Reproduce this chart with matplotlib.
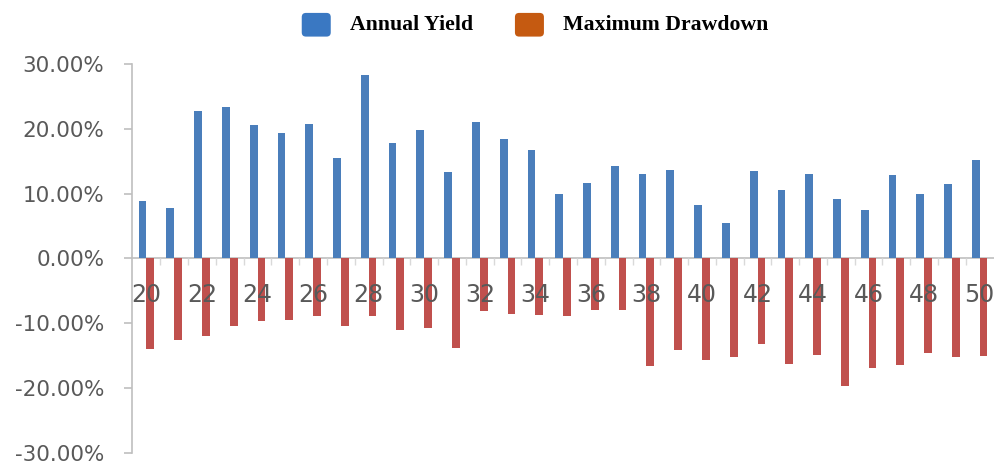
import matplotlib
matplotlib.use("Agg")
import matplotlib.pyplot as plt
import numpy as np
from matplotlib.patches import FancyBboxPatch, Patch
from matplotlib.legend_handler import HandlerPatch
from matplotlib.ticker import FuncFormatter, FixedLocator

categories = list(range(20, 51))
annual_yield = [8.9, 7.8, 22.8, 23.4, 20.6, 19.4, 20.8, 15.5, 28.3, 17.8,
                19.8, 13.4, 21.1, 18.5, 16.8, 10.0, 11.7, 14.3, 13.1, 13.7,
                8.2, 5.4, 13.5, 10.6, 13.1, 9.1, 7.5, 12.9, 10.0, 11.5, 15.2]
max_drawdown = [-13.9, -12.5, -12.0, -10.4, -9.7, -9.5, -8.9, -10.4, -8.9, -11.0,
                -10.7, -13.8, -8.1, -8.5, -8.7, -8.9, -8.0, -8.0, -16.6, -14.1,
                -15.7, -15.2, -13.2, -16.2, -14.9, -19.7, -16.9, -16.5, -14.6, -15.2, -15.1]
x_tick_labels = [str(c) for c in categories if c % 2 == 0]
y_ticks = [-30, -20, -10, 0, 10, 20, 30]

BLUE = "#4A7EBB"
RED = "#C0504D"
LEG_BLUE = "#3A78C2"
LEG_ORANGE = "#C55A11"
GRAY_TXT = "#595959"
GRAY_LINE = "#BFBFBF"

fig = plt.figure(figsize=(9.95, 4.62), dpi=100)
ax = fig.add_axes([0.1327, 0.0195, 0.867, 0.842])

x = np.array(categories, dtype=float)
w = 0.28
ax.bar(x - w / 2, annual_yield, width=w, color=BLUE, zorder=1)
ax.bar(x + w / 2, max_drawdown, width=w, color=RED, zorder=1)

ax.set_xlim(19.48, 50.54)
ax.set_ylim(-30, 30)

for s in ["top", "right"]:
    ax.spines[s].set_visible(False)
ax.spines["left"].set_color(GRAY_LINE)
ax.spines["left"].set_linewidth(1.2)
ax.spines["bottom"].set_position(("data", 0))
ax.spines["bottom"].set_color(GRAY_LINE)
ax.spines["bottom"].set_linewidth(1.2)
ax.spines["bottom"].set_zorder(0.5)

ax.yaxis.set_major_locator(FixedLocator(y_ticks))
ax.yaxis.set_major_formatter(FuncFormatter(lambda v, p: f"{v:.2f}%"))
ax.tick_params(axis="y", which="major", length=5.8, width=1.2, color=GRAY_LINE,
               labelsize=15.5, labelcolor=GRAY_TXT, pad=14)

even = [c for c in categories if c % 2 == 0]
ax.xaxis.set_major_locator(FixedLocator(even))
ax.set_xticklabels(x_tick_labels)
ax.xaxis.set_minor_locator(FixedLocator([c + 0.5 for c in categories[:-1]]))
ax.tick_params(axis="x", which="major", length=0, labelsize=17, labelcolor=GRAY_TXT, pad=18)
ax.tick_params(axis="x", which="minor", length=5, width=1, color="#D9D9D9", direction="out")
for lbl in ax.get_xticklabels():
    lbl.set_zorder(3)


class RoundHandler(HandlerPatch):
    def create_artists(self, legend, orig_handle, xdescent, ydescent, width, height, fontsize, trans):
        p = FancyBboxPatch((-xdescent, -ydescent - 3), width, height + 3,
                           boxstyle="round,pad=0,rounding_size=3",
                           facecolor=orig_handle.get_facecolor(), edgecolor="none",
                           transform=trans)
        return [p]


handles = [Patch(facecolor=LEG_BLUE), Patch(facecolor=LEG_ORANGE)]
leg = fig.legend(handles, ["Annual Yield", "Maximum Drawdown"], loc="center",
                 bbox_to_anchor=(0.5377, 0.948), ncol=2, frameon=False,
                 prop={"family": "Liberation Serif", "weight": "bold", "size": 15.7},
                 handler_map={Patch: RoundHandler()}, handlelength=1.33, handleheight=1.0,
                 handletextpad=0.87, columnspacing=1.93)

fig.savefig("out.png", dpi=100)
